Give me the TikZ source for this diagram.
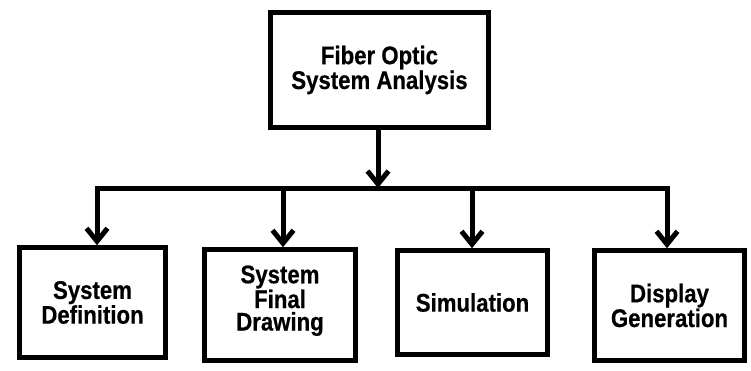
\documentclass[tikz,border=0pt]{standalone}
\usepackage{fontspec}
\newfontfamily\lblfont{Liberation Sans}[FakeStretch=0.87, BoldFeatures={FakeBold=0.5}]
\usetikzlibrary{arrows.meta}
\begin{document}
\begin{tikzpicture}[x=1pt,y=-1pt,
  box/.style={draw=black, line width=4.5pt, rectangle, inner sep=0pt, align=center,
    font=\lblfont\bfseries\fontsize{25.5}{22.5}\selectfont},
  conn/.style={line width=5pt, draw=black},
  arr/.style={conn, -{Straight Barb[length=13pt,width=21pt,line width=5pt]}}]
\useasboundingbox (0,0) rectangle (751,371);
\node[box, minimum width=218pt, minimum height=115pt] (top) at (379.5,70) {Fiber Optic\\System Analysis};
\node[box, minimum width=146pt, minimum height=110pt] (b1) at (92.5,302.5) {System\\Definition};
\node[box, minimum width=151pt, minimum height=111pt, text depth=14pt] (b2) at (280,305) {System\\Final\\Drawing};
\node[box, minimum width=150pt, minimum height=104pt] (b3) at (472.5,302.5) {Simulation};
\node[box, minimum width=150pt, minimum height=110pt] (b4) at (669.5,305.5) {Display\\Generation};
\coordinate (busL) at (97,189);
\coordinate (busR) at (667,189);
\coordinate (busT) at (378,189);
\coordinate (bus2) at (283,189);
\coordinate (bus3) at (472,189);
\draw[conn, line join=miter] (b1.north -| busL) ++(0,-3) -- (busL) -- (busR) -- ++(0,3);
\draw[arr] (top.south -| busT) -- ([yshift=1pt]busT);
\draw[arr] (busL) -- (b1.north -| busL);
\draw[arr] (bus2) -- (b2.north -| bus2);
\draw[arr] (bus3) -- (b3.north -| bus3);
\draw[arr] (busR) -- (b4.north -| busR);
\end{tikzpicture}
\end{document}
